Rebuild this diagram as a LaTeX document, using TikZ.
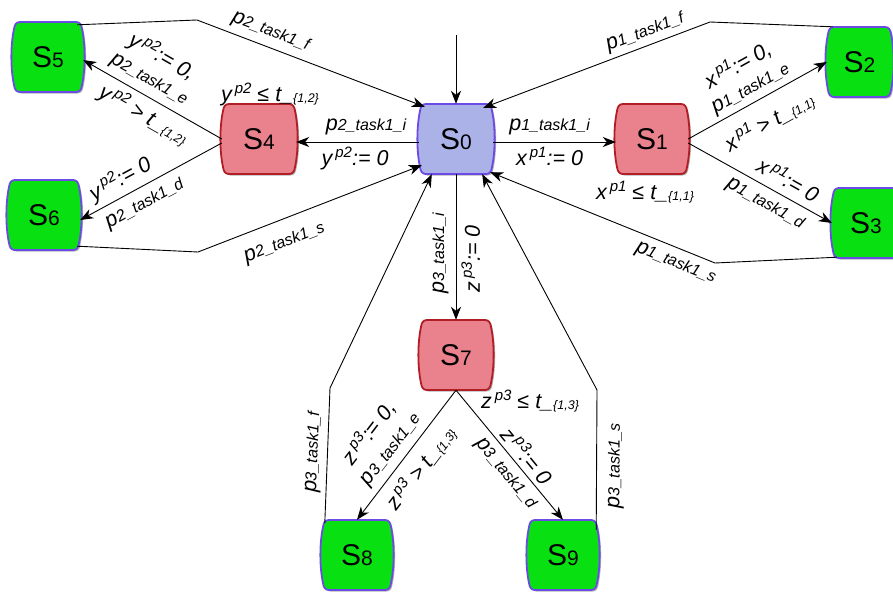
\documentclass[tikz,border=0pt]{standalone}
\usepackage{fontspec}
\setmainfont{Liberation Sans}
\usetikzlibrary{arrows.meta,shadows,calc}
\definecolor{gfill}{RGB}{8,224,18}
\definecolor{pborder}{RGB}{108,74,230}
\definecolor{lavfill}{RGB}{170,178,232}
\definecolor{rfill}{RGB}{233,130,141}
\definecolor{rborder}{RGB}{178,30,38}
\newcommand\fBig{\fontsize{21.5}{24}\selectfont}
\newcommand\fSm{\fontsize{16}{18}\selectfont}
\newcommand\fSup{\fontsize{15}{17}\selectfont}
\newcommand\fTny{\fontsize{12.5}{14}\selectfont}
\newcommand\pl[2]{{\fBig #1}{\fSm #2}}
\newcommand\clk[3]{{\fBig #1}\kern3pt\raisebox{8pt}{\fSup #2}{\fBig #3}}
\newcommand\tbd[1]{{\fBig t\_}\raisebox{-1pt}{\fTny\{#1\}}}
\newcommand\stnode[6]{%
  \path[#5, shift={(#2,#3)}] ({-#4+7},-35) -- ({#4-7},-35)
    .. controls ({#4-3},-35) and ({#4-1.5},-32) .. ({#4-1},-28)
    .. controls ({#4+2.5},-12) and ({#4+2.5},12) .. ({#4-1},28)
    .. controls ({#4-1.5},32) and ({#4-3},35) .. ({#4-7},35)
    -- ({-#4+7},35)
    .. controls ({-#4+3},35) and ({-#4+1.5},32) .. ({-#4+1},28)
    .. controls ({-#4-2.5},12) and ({-#4-2.5},-12) .. ({-#4+1},-28)
    .. controls ({-#4+1.5},-32) and ({-#4+3},-35) .. ({-#4+7},-35) -- cycle;
  \node[stlbl, minimum width={2*#4pt}] (#1) at (#2,#3) {S{\fontsize{21}{21}\selectfont #6}};}
\tikzset{
  shsty/.style={drop shadow={shadow xshift=1.5pt, shadow yshift=-1.5pt, opacity=.3, fill=black}},
  grnsty/.style={shsty, fill=gfill, draw=pborder, line width=1.8pt},
  s0sty/.style={shsty, fill=lavfill, draw=pborder, line width=1.8pt},
  redsty/.style={shsty, fill=rfill, draw=rborder, line width=1.8pt},
  stlbl/.style={rectangle, draw=none, inner sep=0pt, minimum height=70pt, font=\fontsize{30}{30}\selectfont},
  conn/.style={-{Stealth[length=13pt,width=10pt,inset=4pt]}, line width=0.9pt},
  connR/.style={{Stealth[length=13pt,width=10pt,inset=4pt]}-, line width=0.9pt},
  lab/.style={font=\itshape\fBig, inner sep=0pt, sloped},
  inv/.style={font=\itshape\fBig, inner sep=0pt}
}
\begin{document}
\begin{tikzpicture}[x=1pt,y=-1pt]
\fill[white] (0,0) rectangle (893,594);
\useasboundingbox (0,0) rectangle (893,594);

\stnode{S0}{456}{139}{37}{s0sty}{0}
\stnode{S1}{652}{139}{36}{redsty}{1}
\stnode{S2}{859.5}{62}{32.5}{grnsty}{2}
\stnode{S3}{866}{223}{34}{grnsty}{3}
\stnode{S4}{259}{139}{37}{redsty}{4}
\stnode{S5}{48}{57}{35}{grnsty}{5}
\stnode{S6}{44}{215}{36}{grnsty}{6}
\stnode{S7}{456}{355}{36}{redsty}{7}
\stnode{S8}{357}{555}{35}{grnsty}{8}
\stnode{S9}{563}{555}{35}{grnsty}{9}

\coordinate (i0) at (456,35);
\coordinate (b5) at (197,20);
\coordinate (b6) at (198,252);
\coordinate (b8) at (330,388);
\coordinate (b9) at (597,390);
\coordinate (b2) at (710,22);
\coordinate (b3) at (715,263);

\draw[conn] (i0) -- (S0.north);

\draw[conn] ([yshift=-3pt]S0.west) --
  node[lab,pos=.43,above=7pt]{\pl{p}{2\_task1\_i}}
  node[lab,pos=.52,below=5pt]{\clk{y}{p2}{:= 0}}
  ([yshift=-3pt]S4.east);

\draw[conn] ([yshift=-3pt]S0.east) --
  node[lab,pos=.46,above=7pt]{\pl{p}{1\_task1\_i}}
  node[lab,pos=.46,below=5pt]{\clk{x}{p1}{:= 0}}
  ([yshift=-3pt]S1.west);

\draw[connR] (S7.north) --
  node[lab,pos=.455,above=7pt]{\pl{p}{3\_task1\_i}}
  node[lab,pos=.42,below=5pt]{\clk{z}{p3}{:= 0}}
  (S0.south);

\draw[conn] (S4.west) --
  node[lab,pos=.58,above=6pt,align=center]{\clk{y}{p2}{:= 0,}\\\pl{p}{2\_task1\_e}}
  node[lab,pos=.5,below=6pt]{\clk{y}{p2}{\ >\ }\tbd{1,2}}
  ([yshift=-3pt]S5.east);

\draw[conn] ([yshift=-4pt]S4.west) --
  node[lab,pos=.66,above=5pt]{\clk{y}{p2}{:= 0}}
  node[lab,pos=.6,below=9pt]{\pl{p}{2\_task1\_d}}
  ([yshift=-5pt]S6.east);

\draw[conn] (S1.east) --
  node[lab,pos=.5,above=4pt,align=center]{\clk{x}{p1}{:= 0,}\\\pl{p}{1\_task1\_e}}
  node[lab,pos=.5,below=13pt]{\clk{x}{p1}{\ >\ }\tbd{1,1}}
  (S2.west);

\draw[conn] ([yshift=-4pt]S1.east) --
  node[lab,pos=.64,above=8pt]{\clk{x}{p1}{:= 0}}
  node[lab,pos=.59,below=8pt]{\pl{p}{1\_task1\_d}}
  (S3.west);

\draw[conn] (S7.south) --
  node[lab,pos=.53,above=6pt,align=center]{\clk{z}{p3}{:= 0,}\\[1pt]\pl{p}{3\_task1\_e}}
  node[lab,pos=.51,below=8pt]{\clk{z}{p3}{\ >\ }\tbd{1,3}}
  (S8.north);

\draw[conn] (S7.south) --
  node[lab,pos=.57,above=4pt]{\clk{z}{p3}{:= 0}}
  node[lab,pos=.57,below=7pt]{\pl{p}{3\_task1\_d}}
  (S9.north);

\draw[conn] ([xshift=-6pt,yshift=-3pt]S5.north east) -- (b5) --
  node[lab,pos=.30,above=6pt]{\pl{p}{2\_task1\_f}}
  ([xshift=6pt,yshift=-3pt]S0.north west);

\draw[conn] ([xshift=-3pt,yshift=4pt]S6.south east) -- (b6) --
  node[lab,pos=.35,below=15pt]{\pl{p}{2\_task1\_s}}
  ([xshift=3pt,yshift=9pt]S0.south west);

\draw[conn] ([xshift=3pt,yshift=-3pt]S8.north west) --
  node[lab,pos=.52,above=5pt]{\pl{p}{3\_task1\_f}}
  (b8) -- ([xshift=13pt]S0.south west);

\draw[conn] ([xshift=-2pt,yshift=-10pt]S9.north east) --
  node[lab,pos=.46,below=11pt]{\pl{p}{3\_task1\_s}}
  (b9) -- ([xshift=-11pt]S0.south east);

\draw[conn] ([xshift=6pt]S2.north west) -- (b2) --
  node[lab,pos=.265,above=4pt]{\pl{p}{1\_task1\_f}}
  ([xshift=-10pt,yshift=-4pt]S0.north east);

\draw[conn] ([xshift=5pt,yshift=1pt]S3.south west) -- (b3) --
  node[lab,pos=.15,below=7pt]{\pl{p}{1\_task1\_s}}
  ([xshift=-3pt,yshift=2pt]S0.south east);

\node[inv] (inv4) at (270,94) {\clk{y}{p2}{\ ≤\ }\tbd{1,2}};
\node[inv] (inv1) at (645,192) {\clk{x}{p1}{\ ≤\ }\tbd{1,1}};
\node[inv] (inv7) at (530,401) {\clk{z}{p3}{\ ≤\ }\tbd{1,3}};
\end{tikzpicture}
\end{document}
